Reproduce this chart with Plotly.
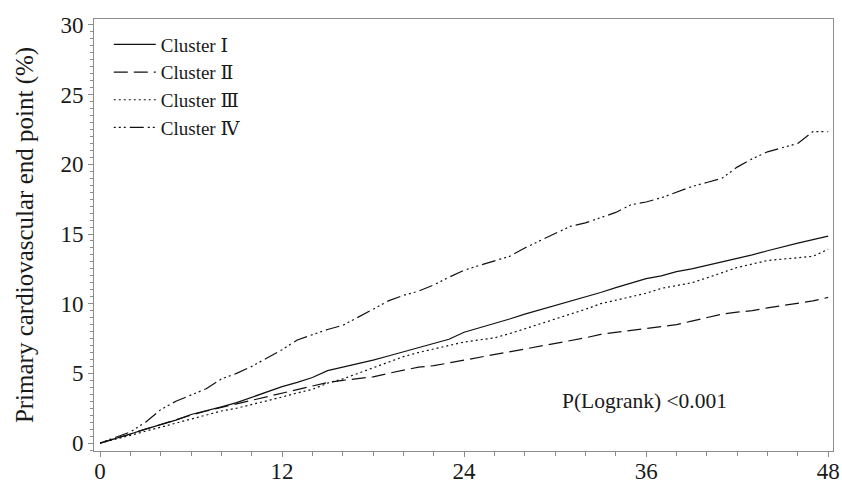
import plotly.graph_objects as go

months = list(range(0, 49))

cluster_1 = [0, 0.3, 0.65, 1.0, 1.3, 1.65, 2.05, 2.3, 2.6, 2.9, 3.3, 3.7, 4.05, 4.35, 4.7, 5.2,
             5.45, 5.65, 5.95, 6.25, 6.55, 6.85, 7.1, 7.45, 7.95, 8.25, 8.6, 8.9, 9.25, 9.55,
             9.85, 10.15, 10.45, 10.8, 11.15, 11.45, 11.8, 12.0, 12.3, 12.5, 12.75, 12.95,
             13.2, 13.5, 13.8, 14.1, 14.35, 14.6, 14.85]

cluster_2 = [0, 0.3, 0.65, 1.0, 1.35, 1.7, 2.0, 2.3, 2.55, 2.85, 3.1, 3.35, 3.55, 3.85, 4.1,
             4.35, 4.5, 4.65, 4.75, 5.0, 5.25, 5.45, 5.55, 5.75, 5.95, 6.2, 6.35, 6.6, 6.8,
             6.95, 7.15, 7.35, 7.55, 7.8, 7.95, 8.05, 8.2, 8.35, 8.5, 8.75, 9.0, 9.25, 9.4,
             9.5, 9.7, 9.85, 10.0, 10.2, 10.45]

cluster_3 = [0, 0.25, 0.55, 0.85, 1.15, 1.45, 1.75, 2.05, 2.3, 2.5, 2.75, 3.0, 3.3, 3.6, 3.85,
             4.3, 4.6, 5.0, 5.4, 5.8, 6.2, 6.5, 6.75, 7.0, 7.25, 7.4, 7.55, 7.85, 8.2, 8.55,
             8.9, 9.2, 9.6, 10.0, 10.25, 10.45, 10.75, 11.1, 11.3, 11.5, 11.85, 12.25, 12.6,
             12.85, 13.1, 13.2, 13.3, 13.4, 13.9]

cluster_4 = [0, 0.4, 0.8, 1.5, 2.4, 3.0, 3.45, 3.9, 4.6, 5.0, 5.5, 6.1, 6.7, 7.4, 7.8, 8.15,
             8.45, 9.0, 9.6, 10.2, 10.6, 10.9, 11.35, 11.9, 12.4, 12.75, 13.05, 13.4, 14.0,
             14.5, 15.0, 15.55, 15.8, 16.2, 16.55, 17.1, 17.3, 17.6, 18.0, 18.4, 18.7, 19.0,
             19.8, 20.4, 20.9, 21.2, 21.5, 22.35, 22.35]

names = ["Cluster Ⅰ", "Cluster Ⅱ", "Cluster Ⅲ", "Cluster Ⅳ"]
x_ticks = [0, 12, 24, 36, 48]
y_ticks = [0, 5, 10, 15, 20, 25, 30]
y_title = "Primary cardiovascular end point (%)"
p_text = "P(Logrank) <0.001"

FONT = "'Liberation Serif', 'Times New Roman', Times, 'DejaVu Serif', serif"
INK = "#1a1a1a"
AXIS = "#8c8c8c"

dashes = ["solid", "14px,6px", "2px,3px", "2px,3px,2px,3px,2px,4px,14px,4px"]
series = [cluster_1, cluster_2, cluster_3, cluster_4]

fig = go.Figure()
for name, ys, dash in zip(names, series, dashes):
    fig.add_trace(go.Scatter(
        x=months, y=ys, mode="lines", name=name,
        line=dict(color="#111111", width=1.2, dash=dash, shape="linear"),
    ))

fig.add_annotation(
    x=30.3, y=3.0, xref="x", yref="y", text=p_text,
    showarrow=False, xanchor="left", yanchor="middle",
    font=dict(family=FONT, size=21.5, color=INK),
)

fig.update_layout(
    width=842, height=488,
    margin=dict(l=94, r=9, t=19, b=37, autoexpand=False),
    paper_bgcolor="white", plot_bgcolor="white",
    font=dict(family=FONT, size=22, color=INK),
    showlegend=True,
    legend=dict(
        x=0.02, y=0.985, xanchor="left", yanchor="top",
        bgcolor="rgba(0,0,0,0)", borderwidth=0,
        font=dict(family=FONT, size=19, color=INK),
        tracegroupgap=0, itemwidth=42,
    ),
)

fig.update_xaxes(
    range=[-0.4, 48.32], tickmode="array", tickvals=x_ticks,
    ticktext=[str(v) for v in x_ticks], automargin=False,
    showgrid=False, zeroline=False,
    showline=True, linecolor=AXIS, linewidth=1, mirror=True,
    ticks="outside", ticklen=5, tickcolor=AXIS, tickwidth=1,
    ticklabelstandoff=-6,
    minor=dict(dtick=2, tick0=0, ticks="outside", ticklen=4, tickcolor=AXIS, showgrid=False),
    tickfont=dict(family=FONT, size=23, color=INK),
)
fig.update_yaxes(
    range=[-0.57, 30.43], tickmode="array", tickvals=y_ticks,
    ticktext=[str(v) for v in y_ticks], automargin=False,
    title=dict(text=y_title, font=dict(family=FONT, size=25, color=INK), standoff=19),
    showgrid=False, zeroline=False,
    showline=True, linecolor=AXIS, linewidth=1, mirror=True,
    ticks="outside", ticklen=5, tickcolor=AXIS, tickwidth=1,
    minor=dict(dtick=0.5, tick0=0, ticks="outside", ticklen=3, tickcolor=AXIS, showgrid=False),
    tickfont=dict(family=FONT, size=23, color=INK),
)

fig.write_html("out.html", config={"displayModeBar": False},
               post_script="document.body.style.margin='0';")
